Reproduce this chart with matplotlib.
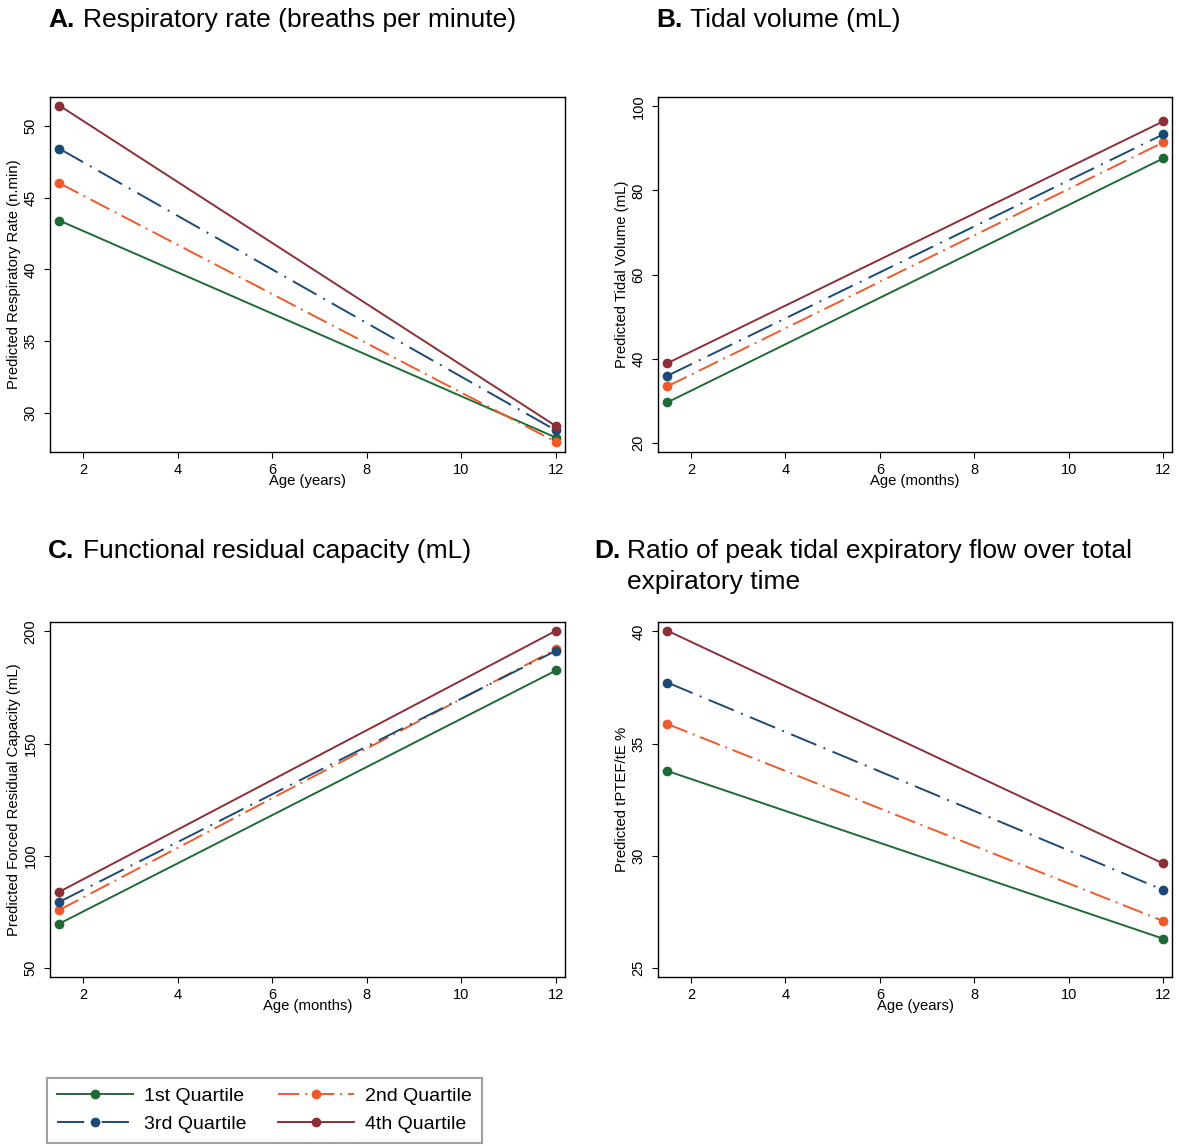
import matplotlib
matplotlib.use("Agg")
import matplotlib.pyplot as plt

plt.rcParams['font.family'] = ['Liberation Sans', 'DejaVu Sans']

# ---- data ----
ages = [1.5, 12]
quartiles = ["1st Quartile", "2nd Quartile", "3rd Quartile", "4th Quartile"]

resp_rate = {"1st Quartile": [43.4, 28.3], "2nd Quartile": [46.0, 28.0],
             "3rd Quartile": [48.4, 28.8], "4th Quartile": [51.4, 29.1]}
tidal_vol = {"1st Quartile": [29.7, 87.6], "2nd Quartile": [33.5, 91.4],
             "3rd Quartile": [36.0, 93.3], "4th Quartile": [39.0, 96.4]}
frc = {"1st Quartile": [69.8, 182.6], "2nd Quartile": [75.9, 192.1],
       "3rd Quartile": [79.5, 191.4], "4th Quartile": [84.0, 200.3]}
tptef = {"1st Quartile": [33.78, 26.31], "2nd Quartile": [35.87, 27.10],
         "3rd Quartile": [37.72, 28.48], "4th Quartile": [40.03, 29.66]}

xticks = [2, 4, 6, 8, 10, 12]
yticks_A = [30, 35, 40, 45, 50]
yticks_B = [20, 40, 60, 80, 100]
yticks_C = [50, 100, 150, 200]
yticks_D = [25, 30, 35, 40]

colors = {"1st Quartile": "#1e6b36", "2nd Quartile": "#f05a28",
          "3rd Quartile": "#1b4a77", "4th Quartile": "#8c2f36"}
styles = {"1st Quartile": "-", "2nd Quartile": (0, (11, 3, 1, 3)),
          "3rd Quartile": (0, (14, 4, 1, 4)), "4th Quartile": "-"}

W, H = 1179, 1146
fig = plt.figure(figsize=(W / 100, H / 100), dpi=100)
fig.patch.set_facecolor("white")


def make_ax(x0, y0, x1, y1):
    return fig.add_axes([x0 / W, 1 - y1 / H, (x1 - x0) / W, (y1 - y0) / H])


panels = [
    (make_ax(50, 97, 565, 452), resp_rate, yticks_A, (27.3, 52.0),
     "Predicted Respiratory Rate (n.min)", "Age (years)"),
    (make_ax(658, 97, 1172, 452), tidal_vol, yticks_B, (17.9, 102.2),
     "Predicted Tidal Volume (mL)", "Age (months)"),
    (make_ax(50, 622, 565, 977), frc, yticks_C, (46.0, 204.2),
     "Predicted Forced Residual Capacity (mL)", "Age (months)"),
    (make_ax(658, 622, 1172, 977), tptef, yticks_D, (24.6, 40.42),
     "Predicted tPTEF/tE %", "Age (years)"),
]

handles = {}
for ax, data, yt, ylim, ylab, xlab in panels:
    for q in quartiles:
        ln, = ax.plot(ages, data[q], color=colors[q], linestyle=styles[q],
                      linewidth=1.4, marker="o", markersize=6, label=q)
        handles[q] = ln
    ax.set_xlim(1.3, 12.19)
    ax.set_ylim(*ylim)
    ax.set_xticks(xticks)
    ax.set_yticks(yt)
    ax.tick_params(axis="x", length=4, pad=4, labelsize=10.5, width=0.8)
    ax.tick_params(axis="y", length=4, pad=5, labelsize=10.5, width=0.8)
    for lab in ax.get_yticklabels():
        lab.set_rotation(90)
        lab.set_va("center")
    for s in ax.spines.values():
        s.set_linewidth(1.0)
        s.set_color("black")
    ax.set_ylabel(ylab, fontsize=10.7)
    ax.yaxis.set_label_coords(-0.056, 0.5)
    ax.set_xlabel(xlab, fontsize=10.7)
    ax.xaxis.set_label_coords(0.5, -0.062)

# ---- titles ----
tfs = 19
def title(xb, xt, y, letter, text):
    fig.text(xb / W, 1 - y / H, letter, fontsize=tfs, fontweight="bold",
             ha="left", va="center")
    fig.text(xt / W, 1 - y / H, text, fontsize=tfs, ha="left", va="center")

title(48, 83, 20, "A.", "Respiratory rate (breaths per minute)")
title(656, 690, 20, "B.", "Tidal volume (mL)")
title(48, 83, 551, "C.", "Functional residual capacity (mL)")
title(594, 627, 551, "D.", "Ratio of peak tidal expiratory flow over total")
fig.text(627 / W, 1 - 582 / H, "expiratory time", fontsize=tfs,
         ha="left", va="center")

# ---- legend ----
order = ["1st Quartile", "3rd Quartile", "2nd Quartile", "4th Quartile"]
leg = fig.legend([handles[q] for q in order], order, ncol=2,
                 loc="lower left", bbox_to_anchor=(47 / W, 3 / H),
                 borderaxespad=0, fontsize=14, handlelength=3.9,
                 frameon=True, fancybox=False, edgecolor="#8a8a8a",
                 borderpad=0.5, labelspacing=0.55, columnspacing=1.6,
                 handletextpad=0.6)
leg.get_frame().set_linewidth(1.5)

fig.savefig("out.png", dpi=100, facecolor="white")
